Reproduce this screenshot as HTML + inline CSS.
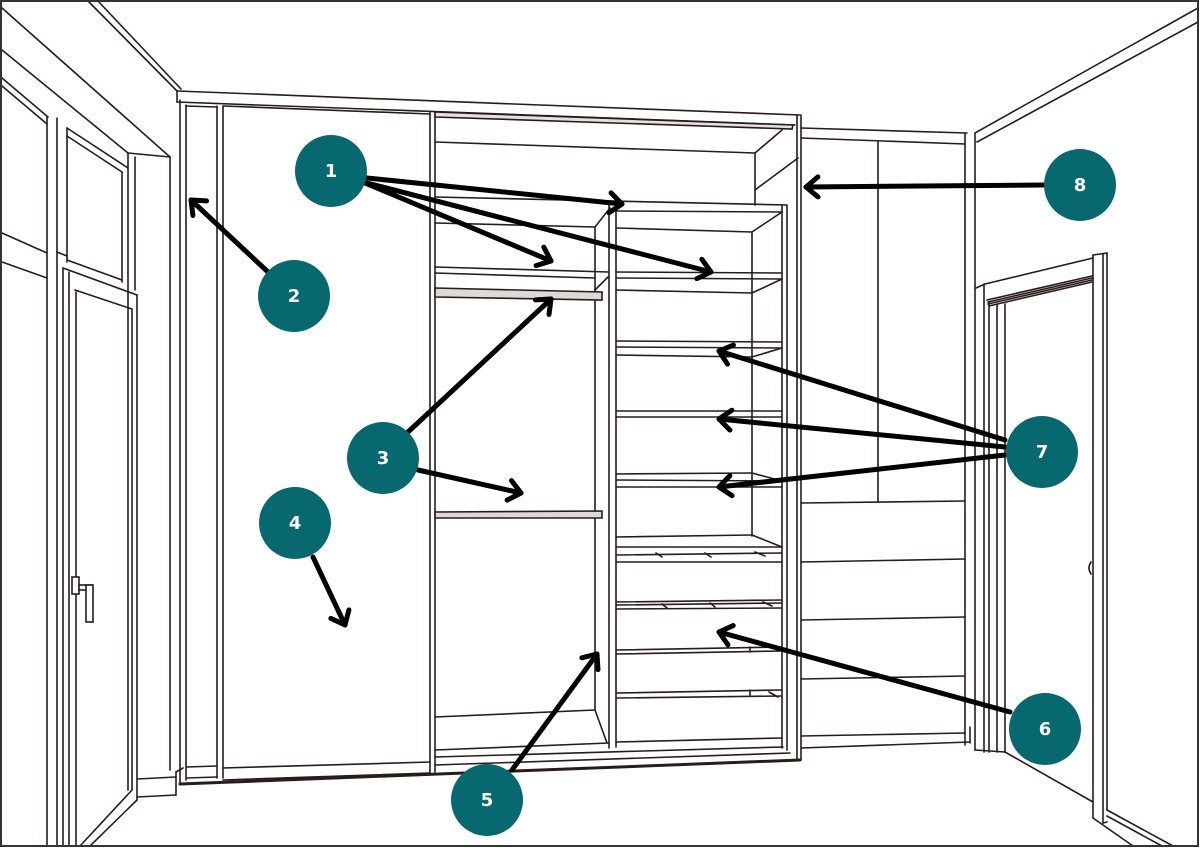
<!DOCTYPE html>
<html><head><meta charset="utf-8"><style>
html,body{margin:0;padding:0;background:#fff;}
svg{display:block;}
text{font-family:"DejaVu Sans","Liberation Sans",sans-serif;font-weight:bold;font-size:18px;fill:#fff;}
</style></head><body>
<svg width="1200" height="848" viewBox="0 0 1200 848" xmlns="http://www.w3.org/2000/svg">
<defs>
<marker id="a" markerUnits="userSpaceOnUse" markerWidth="40" markerHeight="40" viewBox="-20 -20 40 40" refX="0" refY="0" orient="auto" overflow="visible">
<path d="M-12,-10 L0,0 L-12,10" fill="none" stroke="#000" stroke-width="5" stroke-linecap="round" stroke-linejoin="round"/>
</marker>
</defs>
<rect x="0" y="0" width="1200" height="848" fill="#fff"/>
<g fill="none" stroke="#2a1b18" stroke-width="1.6" stroke-linecap="round">
<line x1="88" y1="1" x2="177" y2="91"/>
<line x1="98" y1="1" x2="181" y2="89"/>
<line x1="177" y1="91" x2="177" y2="102"/>
<line x1="177" y1="91" x2="800" y2="115"/>
<line x1="177" y1="102" x2="795" y2="125"/>
<line x1="2" y1="8" x2="170" y2="157"/>
<line x1="2" y1="50" x2="128" y2="153"/>
<line x1="128" y1="153" x2="170" y2="157"/>
<line x1="170" y1="157" x2="170" y2="770"/>
<line x1="2" y1="78" x2="48" y2="117"/>
<line x1="2" y1="86" x2="47" y2="124"/>
<line x1="67" y1="128" x2="128" y2="168"/>
<line x1="67" y1="136" x2="122" y2="172"/>
<line x1="47" y1="117" x2="47" y2="846"/>
<line x1="57" y1="118" x2="57" y2="846"/>
<line x1="67" y1="128" x2="67" y2="262"/>
<line x1="122" y1="172" x2="122" y2="282"/>
<line x1="128" y1="153" x2="128" y2="790"/>
<line x1="135" y1="157" x2="135" y2="290"/>
<line x1="2" y1="233" x2="47" y2="253"/>
<line x1="2" y1="262" x2="47" y2="278"/>
<line x1="57" y1="252" x2="67" y2="256"/>
<line x1="67" y1="260" x2="122" y2="280"/>
<line x1="63" y1="268" x2="137" y2="295"/>
<line x1="75" y1="290" x2="132" y2="309"/>
<line x1="63" y1="268" x2="63" y2="846"/>
<line x1="69" y1="272" x2="69" y2="846"/>
<line x1="76" y1="292" x2="76" y2="846"/>
<line x1="132" y1="309" x2="132" y2="790"/>
<line x1="137" y1="295" x2="137" y2="800"/>
<line x1="132" y1="790" x2="80" y2="846"/>
<line x1="137" y1="800" x2="90" y2="846"/>
<rect x="72" y="577" width="7" height="17" fill="#fff"/>
<rect x="79" y="585" width="13" height="5" fill="#fff"/>
<rect x="86" y="585" width="7" height="37" fill="#fff"/>
<line x1="137" y1="779" x2="176" y2="777"/>
<line x1="137" y1="797" x2="176" y2="795"/>
<line x1="176" y1="772" x2="176" y2="795"/>
<line x1="176" y1="772" x2="183" y2="768"/>
<line x1="180" y1="100" x2="180" y2="783"/>
<line x1="186" y1="105" x2="186" y2="780"/>
<line x1="217" y1="106" x2="217" y2="778"/>
<line x1="223" y1="106" x2="223" y2="778"/>
<line x1="430" y1="112" x2="430" y2="773"/>
<line x1="435" y1="112" x2="435" y2="772"/>
<line x1="186" y1="106" x2="217" y2="107"/>
<line x1="223" y1="106" x2="430" y2="114"/>
<line x1="187" y1="767" x2="217" y2="766"/>
<line x1="187" y1="778" x2="217" y2="777"/>
<line x1="223" y1="768" x2="430" y2="762"/>
<line x1="223" y1="780" x2="430" y2="773"/>
<line x1="180" y1="784" x2="800" y2="760" stroke-width="3"/>
<line x1="435" y1="765" x2="790" y2="753"/>
<path d="M435,112 L793,125 L792,129 L435,117 Z" fill="#e6e1df"/>
<line x1="435" y1="142" x2="755" y2="153"/>
<line x1="755" y1="153" x2="755" y2="205"/>
<line x1="755" y1="153" x2="782" y2="130"/>
<line x1="755" y1="190" x2="798" y2="158"/>
<line x1="435" y1="197" x2="787" y2="205"/>
<line x1="435" y1="223" x2="595" y2="227"/>
<line x1="595" y1="227" x2="610" y2="208"/>
<line x1="595" y1="227" x2="595" y2="710"/>
<line x1="435" y1="267" x2="608" y2="272"/>
<line x1="435" y1="273" x2="595" y2="278"/>
<line x1="595" y1="290" x2="608" y2="277"/>
<path d="M435,288 L602,292 L602,300 L435,297 Z" fill="#ded8d6"/>
<path d="M435,512 L602,511 L602,518 L435,518 Z" fill="#ded8d6"/>
<line x1="435" y1="717" x2="595" y2="710"/>
<line x1="595" y1="710" x2="607" y2="743"/>
<line x1="435" y1="750" x2="609" y2="743"/>
<line x1="435" y1="757" x2="783" y2="747"/>
<line x1="609" y1="203" x2="609" y2="748"/>
<line x1="616" y1="205" x2="616" y2="747"/>
<line x1="616" y1="211" x2="782" y2="212"/>
<line x1="616" y1="228" x2="752" y2="232"/>
<line x1="752" y1="232" x2="782" y2="212"/>
<line x1="752" y1="232" x2="752" y2="536"/>
<line x1="616" y1="272" x2="782" y2="273"/>
<line x1="616" y1="278" x2="782" y2="279"/>
<line x1="616" y1="290" x2="752" y2="293"/>
<line x1="752" y1="293" x2="782" y2="279"/>
<line x1="616" y1="341" x2="782" y2="342"/>
<line x1="616" y1="347" x2="782" y2="348"/>
<line x1="616" y1="355" x2="752" y2="357"/>
<line x1="752" y1="357" x2="782" y2="348"/>
<line x1="616" y1="411" x2="782" y2="411"/>
<line x1="616" y1="417" x2="782" y2="417"/>
<line x1="616" y1="474" x2="752" y2="473"/>
<line x1="752" y1="473" x2="782" y2="481"/>
<line x1="616" y1="480" x2="782" y2="481"/>
<line x1="616" y1="487" x2="782" y2="487"/>
<line x1="616" y1="537" x2="752" y2="535"/>
<line x1="752" y1="535" x2="782" y2="547"/>
<line x1="616" y1="547" x2="782" y2="547"/>
<line x1="616" y1="555" x2="782" y2="553"/>
<line x1="616" y1="562" x2="782" y2="562"/>
<line x1="616" y1="602" x2="782" y2="600"/>
<line x1="616" y1="605" x2="782" y2="603"/>
<line x1="616" y1="609" x2="782" y2="608"/>
<line x1="616" y1="650" x2="782" y2="647"/>
<line x1="616" y1="654" x2="782" y2="651"/>
<line x1="616" y1="693" x2="782" y2="690"/>
<line x1="616" y1="698" x2="782" y2="696"/>
<line x1="616" y1="742" x2="782" y2="738"/>
<line x1="656" y1="553" x2="662" y2="557"/>
<line x1="705" y1="553" x2="711" y2="557"/>
<line x1="755" y1="552" x2="765" y2="556"/>
<line x1="662" y1="604" x2="667" y2="608"/>
<line x1="710" y1="603" x2="715" y2="607"/>
<line x1="763" y1="602" x2="772" y2="606"/>
<line x1="769" y1="692" x2="778" y2="697"/>
<line x1="750" y1="647" x2="750" y2="652"/>
<line x1="750" y1="690" x2="750" y2="695"/>
<line x1="782" y1="205" x2="782" y2="748"/>
<line x1="787" y1="205" x2="787" y2="750"/>
<line x1="797" y1="115" x2="797" y2="760"/>
<line x1="801" y1="115" x2="801" y2="760"/>
<line x1="801" y1="128" x2="967" y2="133"/>
<line x1="801" y1="138" x2="965" y2="144"/>
<line x1="878" y1="142" x2="878" y2="502"/>
<line x1="965" y1="133" x2="965" y2="745"/>
<line x1="975" y1="133" x2="975" y2="750"/>
<line x1="801" y1="503" x2="965" y2="501"/>
<line x1="801" y1="562" x2="965" y2="559"/>
<line x1="801" y1="620" x2="965" y2="617"/>
<line x1="801" y1="679" x2="965" y2="676"/>
<line x1="801" y1="736" x2="965" y2="733"/>
<line x1="801" y1="748" x2="970" y2="742"/>
<line x1="970" y1="727" x2="970" y2="743"/>
<line x1="975" y1="133" x2="1198" y2="8"/>
<line x1="977" y1="142" x2="1198" y2="22"/>
<line x1="976" y1="288" x2="985" y2="284"/>
<line x1="985" y1="284" x2="1093" y2="258"/>
<line x1="1093" y1="258" x2="1093" y2="255"/>
<line x1="1093" y1="255" x2="1107" y2="253"/>
<line x1="984" y1="284" x2="984" y2="752"/>
<line x1="989" y1="302" x2="989" y2="752"/>
<line x1="997" y1="304" x2="997" y2="752"/>
<line x1="1005" y1="304" x2="1005" y2="752"/>
<line x1="987" y1="300" x2="1092" y2="276"/>
<line x1="988" y1="302" x2="1092" y2="278"/>
<line x1="988" y1="304" x2="1092" y2="280"/>
<line x1="989" y1="306" x2="1092" y2="282"/>
<line x1="1093" y1="258" x2="1093" y2="818"/>
<line x1="1103" y1="254" x2="1103" y2="823"/>
<line x1="1107" y1="253" x2="1107" y2="810"/>
<line x1="1005" y1="752" x2="1093" y2="802"/>
<line x1="1093" y1="818" x2="1133" y2="846"/>
<line x1="1103" y1="823" x2="1107" y2="822"/>
<line x1="1107" y1="810" x2="1173" y2="846"/>
<line x1="1107" y1="816" x2="1162" y2="846"/>
<path d="M1091,562 q-4,6 0,12"/>
<line x1="975" y1="750" x2="1005" y2="752"/>
</g>
<rect x="1" y="1" width="1197" height="845" fill="none" stroke="#333" stroke-width="2"/>
<g stroke="#000" stroke-width="5" stroke-linecap="round" fill="none" marker-end="url(#a)">
<line x1="367" y1="178" x2="622" y2="204"/>
<line x1="365" y1="183" x2="551" y2="261"/>
<line x1="367" y1="183" x2="711" y2="272"/>
<line x1="268" y1="272" x2="191" y2="200"/>
<line x1="408" y1="432" x2="551" y2="299"/>
<line x1="418" y1="470" x2="521" y2="493"/>
<line x1="313" y1="557" x2="345" y2="625"/>
<line x1="512" y1="770" x2="597" y2="654"/>
<line x1="1010" y1="712" x2="719" y2="632"/>
<line x1="1005" y1="440" x2="719" y2="351"/>
<line x1="1005" y1="447" x2="719" y2="419"/>
<line x1="1005" y1="455" x2="719" y2="487"/>
<line x1="1043" y1="185" x2="806" y2="187"/>
</g>
<g fill="#07686f">
<circle cx="331" cy="171" r="36"/>
<circle cx="294" cy="296" r="36"/>
<circle cx="383" cy="458" r="36"/>
<circle cx="295" cy="523" r="36"/>
<circle cx="487" cy="800" r="36"/>
<circle cx="1045" cy="729" r="36"/>
<circle cx="1042" cy="452" r="36"/>
<circle cx="1080" cy="185" r="36"/>
</g>
<g text-anchor="middle">
<text x="331" y="177">1</text>
<text x="294" y="302">2</text>
<text x="383" y="464">3</text>
<text x="295" y="529">4</text>
<text x="487" y="806">5</text>
<text x="1045" y="735">6</text>
<text x="1042" y="458">7</text>
<text x="1080" y="191">8</text>
</g>
</svg>
</body></html>
